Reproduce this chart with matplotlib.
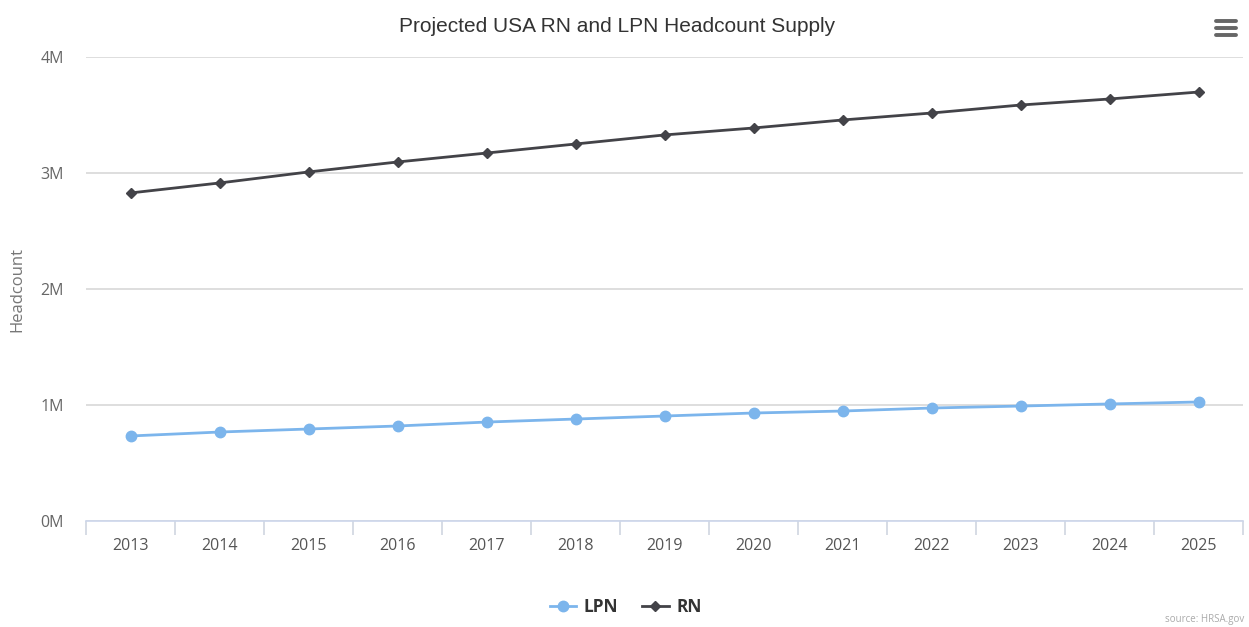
import matplotlib.pyplot as plt
import numpy as np

years = [2013, 2014, 2015, 2016, 2017, 2018, 2019, 2020, 2021, 2022, 2023, 2024, 2025]
lpn = [0.733, 0.767, 0.793, 0.819, 0.853, 0.879, 0.905, 0.931, 0.948, 0.974, 0.991, 1.009, 1.026]
rn = [2.828, 2.914, 3.009, 3.095, 3.172, 3.250, 3.328, 3.388, 3.457, 3.517, 3.586, 3.638, 3.698]
y_ticks = [0, 1, 2, 3, 4]

plt.rcParams['font.family'] = ['Open Sans', 'DejaVu Sans']

fig = plt.figure(figsize=(12.49, 6.27), dpi=100)
ax = fig.add_axes([86 / 1249, 106 / 627, 1157 / 1249, 464 / 627])

x = np.arange(len(years))
ax.plot(x, lpn, color='#7cb5ec', lw=2, marker='o', markersize=7.5, label='LPN', zorder=3)
ax.plot(x, rn, color='#434348', lw=2, marker='D', markersize=5.5, label='RN', zorder=3)

ax.set_xlim(-0.5, len(years) - 0.5)
ax.set_ylim(0, 4)
ax.set_yticks(y_ticks)
ax.set_yticklabels([f'{v}M' for v in y_ticks])
ax.set_xticks(x)
ax.set_xticklabels([str(y) for y in years])
ax.set_xticks(np.arange(len(years) + 1) - 0.5, minor=True)

for s in ['top', 'right', 'left']:
    ax.spines[s].set_visible(False)
ax.spines['bottom'].set_color('#ccd6eb')
ax.spines['bottom'].set_linewidth(1.2)

ax.grid(axis='y', color='#d8d8d8', lw=1.2)
ax.set_axisbelow(True)
ax.tick_params(axis='y', length=0, pad=16, labelsize=11.5, labelcolor='#666666')
ax.tick_params(axis='x', which='major', length=0, pad=12, labelsize=11.5, labelcolor='#555555')
ax.tick_params(axis='x', which='minor', length=10, width=1.2, color='#cfd6e0', direction='out')

ax.set_ylabel('Headcount', color='#777777', fontsize=12)
ax.yaxis.set_label_coords(-0.052, 0.5)

fig.text(0.494, 0.958, 'Projected USA RN and LPN Headcount Supply', ha='center', va='center',
         fontsize=15, color='#333333', family=['Liberation Sans', 'DejaVu Sans'])

# menu icon
for yy in [0.944, 0.955, 0.966]:
    fig.add_artist(plt.Line2D([1216 / 1249, 1236 / 1249], [yy, yy], color='#666666', lw=2.8,
                              solid_capstyle='round'))

fig.legend(loc='center', bbox_to_anchor=(0.501, 0.032), ncol=2, frameon=False,
           prop={'weight': 'bold', 'size': 12.5}, labelcolor='#333333',
           handlelength=1.5, columnspacing=1.4, handletextpad=0.45)

fig.text(0.996, 0.003, 'source: HRSA.gov', ha='right', va='bottom', fontsize=7, color='#aaaaaa')

fig.savefig('out.png', dpi=100)
